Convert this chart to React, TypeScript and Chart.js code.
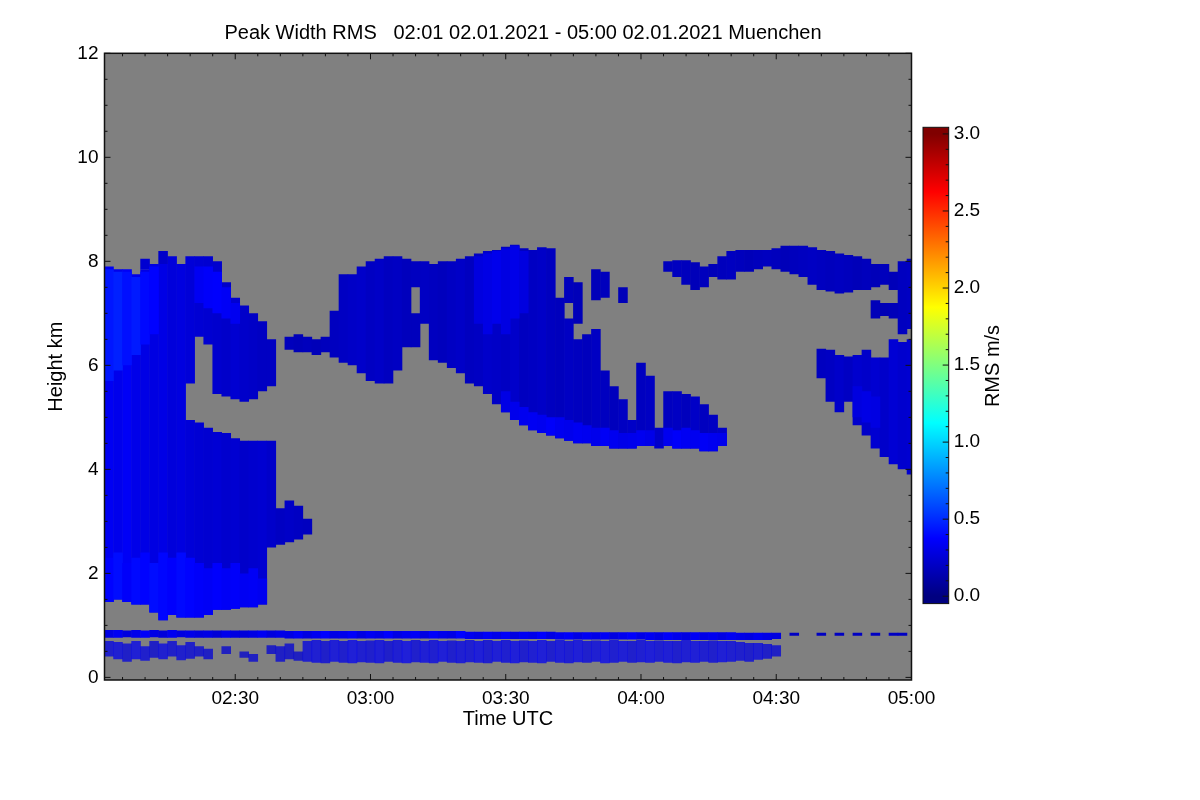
import { useEffect, useRef } from 'react';
import { Chart, registerables } from 'chart.js';

Chart.register(...registerables);

const FONT = '"Liberation Sans", Arial, Helvetica, sans-serif';
const TITLE = 'Peak Width RMS   02:01 02.01.2021 - 05:00 02.01.2021 Muenchen';

// plot frame, page pixels
const PLOT_LEFT = 104.5;
const PLOT_RIGHT = 911.5;
const PLOT_TOP = 53.3;
const PLOT_BOTTOM = 680;

// time axis: minutes after 02:00 UTC
const T_MIN = 1;
const T_MAX = 180;
const X_TICKS = [30, 60, 90, 120, 150, 180];
const X_MINOR = 5;
const H_MIN = -0.05;
const H_MAX = 12;
const RMS_TOP = 3.0;

// centre of each 2-minute profile column
const TIMES = [
  2, 4, 6, 8, 10, 12, 14, 16, 18, 20, 22, 24, 26, 28, 30, 32, 34, 36, 38, 40,
  42, 44, 46, 48, 50, 52, 54, 56, 58, 60, 62, 64, 66, 68, 70, 72, 74, 76, 78, 80,
  82, 84, 86, 88, 90, 92, 94, 96, 98, 100, 102, 104, 106, 108, 110, 112, 114, 116, 118, 120,
  122, 124, 126, 128, 130, 132, 134, 136, 138, 140, 142, 144, 146, 148, 150, 152, 154, 156, 158, 160,
  162, 164, 166, 168, 170, 172, 174, 176, 178, 180,
];

type Cell = [number, number, number] | null; // [base km, top km, rms m/s]
type Spot = [number, number, number, number]; // [minute, base, top, rms]

// lowest cloud segment per column
const CLOUD_LOW: Cell[] = [
  [1.45, 7.9, 0.34], [1.5, 7.85, 0.32], [1.45, 7.85, 0.35], [1.4, 7.75, 0.31], [1.4, 7.85, 0.3],
  [1.25, 7.95, 0.29], [1.1, 7.95, 0.3], [1.2, 8.1, 0.27], [1.15, 7.95, 0.28], [1.15, 4.95, 0.26],
  [1.15, 4.9, 0.25], [1.2, 4.8, 0.24], [1.3, 4.72, 0.25], [1.3, 4.7, 0.23], [1.32, 4.6, 0.24],
  [1.35, 4.55, 0.22], [1.35, 4.55, 0.23], [1.4, 4.55, 0.24], [2.5, 4.55, 0.22], [2.55, 3.25, 0.2],
  [2.6, 3.4, 0.21], [2.65, 3.3, 0.2], [2.75, 3.05, 0.19], null, null,
  null, null, null, null, null,
  null, null, null, null, [6.35, 7.0, 0.18],
  [6.8, 8.0, 0.2], [6.1, 7.95, 0.19], [6.05, 8.0, 0.18], [5.95, 8.0, 0.2], [5.85, 8.05, 0.21],
  [5.65, 8.1, 0.19], [5.6, 8.15, 0.2], [5.45, 8.2, 0.22], [5.25, 8.22, 0.21], [5.1, 8.28, 0.2],
  [4.95, 8.32, 0.22], [4.85, 8.25, 0.19], [4.75, 8.22, 0.2], [4.7, 8.27, 0.21], [4.65, 8.25, 0.19],
  [4.6, 7.3, 0.18], [4.55, 6.9, 0.2], [4.5, 6.5, 0.19], [4.5, 6.6, 0.18], [4.45, 6.7, 0.2],
  [4.45, 5.9, 0.19], [4.4, 5.6, 0.18], [4.4, 5.35, 0.2], [4.4, 4.95, 0.21], [4.45, 6.05, 0.19],
  [4.45, 5.8, 0.2], [4.4, 4.8, 0.22], [4.45, 5.5, 0.19], [4.4, 5.5, 0.2], [4.4, 5.45, 0.18],
  [4.4, 5.4, 0.21], [4.35, 5.25, 0.19], [4.35, 5.05, 0.2], [4.45, 4.8, 0.22], null,
  null, null, null, null, null,
  null, null, null, null, [5.75, 6.32, 0.19],
  [5.3, 6.3, 0.2], [5.1, 6.2, 0.22], [5.3, 6.17, 0.2], [4.85, 6.2, 0.23], [4.65, 6.3, 0.22],
  [4.4, 6.15, 0.24], [4.24, 6.15, 0.22], [4.1, 6.5, 0.25], [4.0, 6.45, 0.23], [3.9, 6.5, 0.24],
];

// second (higher) cloud segment per column
const CLOUD_HIGH: Cell[] = [
  null, null, null, null, null, null, null, null, null, [5.65, 8.1, 0.26],
  [6.55, 8.1, 0.25], [6.4, 8.1, 0.24], [5.45, 8.0, 0.23], [5.4, 7.6, 0.22], [5.35, 7.3, 0.24],
  [5.3, 7.15, 0.22], [5.35, 7.0, 0.21], [5.5, 6.85, 0.2], [5.6, 6.5, 0.2], null,
  [6.3, 6.55, 0.18], [6.25, 6.6, 0.17], [6.25, 6.55, 0.18], [6.2, 6.5, 0.17], [6.25, 6.55, 0.18],
  [6.15, 7.05, 0.19], [6.05, 7.75, 0.2], [6.0, 7.75, 0.21], [5.85, 7.9, 0.22], [5.7, 8.0, 0.2],
  [5.65, 8.05, 0.21], [5.65, 8.1, 0.19], [5.9, 8.1, 0.2], [6.35, 8.05, 0.18], [7.5, 8.0, 0.19],
  null, null, null, null, null, null, null, null, null, null,
  null, null, null, null, null, null, [7.2, 7.7, 0.18], [6.8, 7.6, 0.17], null, [7.25, 7.85, 0.17],
  [7.3, 7.8, 0.18], null, [7.2, 7.5, 0.17], null, null,
  null, null, [7.8, 8.0, 0.18], [7.7, 8.02, 0.19], [7.55, 8.02, 0.18],
  [7.45, 7.98, 0.17], [7.5, 7.9, 0.18], [7.7, 7.95, 0.17], [7.65, 8.1, 0.18], [7.65, 8.2, 0.19],
  [7.8, 8.22, 0.18], [7.8, 8.22, 0.17], [7.85, 8.22, 0.18], [7.9, 8.22, 0.19], [7.85, 8.25, 0.18],
  [7.8, 8.3, 0.17], [7.75, 8.3, 0.18], [7.7, 8.3, 0.19], [7.55, 8.27, 0.2], [7.45, 8.22, 0.19],
  [7.42, 8.2, 0.18], [7.38, 8.15, 0.19], [7.4, 8.12, 0.18], [7.45, 8.1, 0.17], [7.45, 8.05, 0.18],
  [7.5, 7.95, 0.17], [7.55, 7.95, 0.18], [7.45, 7.8, 0.17], [6.6, 8.0, 0.19], [6.7, 8.05, 0.2],
];

// boundary layer: upper band and speckled lower band
const BL_TOP: Cell[] = [
  [0.76, 0.91, 0.3], [0.76, 0.91, 0.34], [0.77, 0.9, 0.28], [0.76, 0.91, 0.32], [0.76, 0.9, 0.36],
  [0.77, 0.91, 0.3], [0.76, 0.9, 0.27], [0.76, 0.91, 0.33], [0.77, 0.9, 0.29], [0.76, 0.9, 0.31],
  [0.76, 0.9, 0.28], [0.76, 0.9, 0.3], [0.76, 0.9, 0.26], [0.76, 0.9, 0.32], [0.76, 0.9, 0.29],
  [0.76, 0.9, 0.27], [0.76, 0.9, 0.3], [0.76, 0.9, 0.34], [0.76, 0.9, 0.28], [0.76, 0.9, 0.31],
  [0.75, 0.89, 0.3], [0.75, 0.89, 0.35], [0.75, 0.89, 0.29], [0.75, 0.89, 0.33], [0.75, 0.89, 0.38],
  [0.75, 0.89, 0.3], [0.75, 0.89, 0.32], [0.75, 0.89, 0.36], [0.75, 0.89, 0.29], [0.75, 0.89, 0.34],
  [0.75, 0.89, 0.31], [0.75, 0.89, 0.37], [0.75, 0.89, 0.3], [0.75, 0.89, 0.33], [0.75, 0.89, 0.35],
  [0.75, 0.89, 0.29], [0.75, 0.89, 0.36], [0.75, 0.89, 0.32], [0.75, 0.89, 0.3], [0.75, 0.89, 0.38],
  [0.74, 0.88, 0.33], [0.74, 0.88, 0.3], [0.74, 0.88, 0.35], [0.74, 0.88, 0.31], [0.74, 0.88, 0.36],
  [0.74, 0.88, 0.29], [0.74, 0.88, 0.34], [0.74, 0.88, 0.32], [0.74, 0.88, 0.37], [0.74, 0.88, 0.3],
  [0.73, 0.87, 0.33], [0.73, 0.87, 0.36], [0.73, 0.87, 0.3], [0.73, 0.87, 0.34], [0.73, 0.87, 0.31],
  [0.73, 0.87, 0.35], [0.73, 0.87, 0.29], [0.73, 0.87, 0.33], [0.73, 0.87, 0.37], [0.73, 0.87, 0.31],
  [0.72, 0.87, 0.34], [0.72, 0.87, 0.3], [0.72, 0.87, 0.36], [0.72, 0.87, 0.32], [0.72, 0.87, 0.29],
  [0.72, 0.87, 0.35], [0.72, 0.87, 0.31], [0.72, 0.87, 0.33], [0.72, 0.87, 0.3], [0.72, 0.87, 0.34],
  [0.72, 0.86, 0.31], [0.72, 0.86, 0.29], [0.72, 0.86, 0.33], [0.72, 0.86, 0.3], [0.74, 0.86, 0.28],
  null, [0.8, 0.86, 0.2], null, null, [0.8, 0.86, 0.2],
  null, [0.8, 0.86, 0.2], null, [0.8, 0.86, 0.2], null,
  [0.8, 0.86, 0.2], null, [0.8, 0.86, 0.2], [0.8, 0.86, 0.2], null,
];

const BL_LOW: Cell[] = [
  [0.4, 0.7, 0.3], [0.35, 0.68, 0.32], [0.3, 0.65, 0.28], [0.35, 0.7, 0.33], [0.32, 0.6, 0.3],
  [0.38, 0.7, 0.27], [0.35, 0.65, 0.31], [0.4, 0.7, 0.29], [0.33, 0.62, 0.3], [0.36, 0.68, 0.28],
  [0.4, 0.6, 0.27], [0.35, 0.55, 0.26], null, [0.45, 0.6, 0.25], null,
  [0.38, 0.5, 0.24], [0.3, 0.45, 0.26], null, [0.45, 0.62, 0.25], [0.3, 0.6, 0.27],
  [0.35, 0.65, 0.26], [0.32, 0.5, 0.25], [0.3, 0.7, 0.3], [0.28, 0.72, 0.32], [0.27, 0.7, 0.29],
  [0.3, 0.72, 0.33], [0.28, 0.7, 0.3], [0.27, 0.72, 0.34], [0.29, 0.7, 0.31], [0.28, 0.71, 0.3],
  [0.27, 0.72, 0.33], [0.3, 0.7, 0.29], [0.28, 0.72, 0.32], [0.27, 0.7, 0.35], [0.29, 0.72, 0.3],
  [0.28, 0.7, 0.33], [0.27, 0.72, 0.31], [0.3, 0.7, 0.34], [0.28, 0.71, 0.3], [0.27, 0.7, 0.32],
  [0.29, 0.72, 0.31], [0.28, 0.7, 0.34], [0.27, 0.72, 0.3], [0.3, 0.7, 0.33], [0.28, 0.72, 0.31],
  [0.27, 0.7, 0.35], [0.29, 0.71, 0.3], [0.28, 0.7, 0.32], [0.27, 0.72, 0.34], [0.3, 0.7, 0.3],
  [0.28, 0.72, 0.33], [0.27, 0.7, 0.31], [0.29, 0.72, 0.34], [0.28, 0.7, 0.3], [0.3, 0.71, 0.32],
  [0.27, 0.7, 0.35], [0.28, 0.72, 0.31], [0.3, 0.7, 0.33], [0.28, 0.7, 0.3], [0.29, 0.72, 0.32],
  [0.28, 0.7, 0.34], [0.3, 0.71, 0.31], [0.28, 0.7, 0.33], [0.27, 0.7, 0.3], [0.29, 0.72, 0.32],
  [0.28, 0.7, 0.34], [0.3, 0.7, 0.31], [0.28, 0.71, 0.3], [0.29, 0.7, 0.33], [0.3, 0.7, 0.31],
  [0.32, 0.68, 0.3], [0.3, 0.66, 0.29], [0.34, 0.66, 0.31], [0.36, 0.64, 0.28], [0.4, 0.62, 0.27],
  null, null, null, null, null, null, null, null, null, null,
  null, null, null, null, null,
];

// brighter patches (higher rms) drawn over the clouds
const BRIGHT_UPPER: Spot[] = [
  [2, 5.7, 7.85, 0.44], [4, 5.9, 7.8, 0.47], [6, 6.0, 7.8, 0.42], [8, 6.2, 7.7, 0.45],
  [10, 6.4, 7.8, 0.4], [12, 6.6, 7.9, 0.38],
  [22, 7.2, 7.9, 0.34], [24, 7.1, 7.9, 0.36], [26, 7.0, 7.8, 0.37], [28, 6.9, 7.5, 0.35], [30, 6.8, 7.2, 0.33],
  [84, 6.8, 8.1, 0.28], [86, 6.6, 8.15, 0.3], [88, 6.8, 8.2, 0.32], [90, 6.6, 8.25, 0.29],
  [92, 6.9, 8.3, 0.31], [94, 7.0, 8.2, 0.28],
];

const BRIGHT_LOWER: Spot[] = [
  [2, 1.45, 2.3, 0.38], [4, 1.5, 2.4, 0.41], [6, 1.45, 2.2, 0.36], [8, 1.4, 2.3, 0.4],
  [10, 1.4, 2.4, 0.38], [12, 1.25, 2.2, 0.41], [14, 1.1, 2.4, 0.39], [16, 1.2, 2.3, 0.37],
  [18, 1.15, 2.4, 0.4], [20, 1.15, 2.3, 0.38], [22, 1.15, 2.2, 0.36], [24, 1.2, 2.1, 0.35],
  [26, 1.3, 2.2, 0.37], [28, 1.3, 2.1, 0.35], [30, 1.32, 2.2, 0.36], [32, 1.35, 2.0, 0.34],
  [34, 1.35, 2.1, 0.35], [36, 1.4, 1.9, 0.33],
  [90, 5.1, 5.5, 0.3], [92, 4.95, 5.3, 0.32], [94, 4.85, 5.2, 0.33], [96, 4.75, 5.1, 0.34],
  [98, 4.7, 5.05, 0.33], [100, 4.65, 5.0, 0.36], [102, 4.6, 5.0, 0.33], [104, 4.55, 4.95, 0.32],
  [106, 4.5, 4.9, 0.34], [108, 4.5, 4.85, 0.33], [110, 4.45, 4.8, 0.32], [112, 4.45, 4.8, 0.35],
  [114, 4.4, 4.75, 0.33], [116, 4.4, 4.7, 0.31], [118, 4.4, 4.7, 0.32], [120, 4.45, 4.75, 0.33],
  [122, 4.45, 4.75, 0.31],
  [126, 4.45, 4.8, 0.33], [128, 4.4, 4.75, 0.36], [130, 4.4, 4.8, 0.34], [132, 4.4, 4.75, 0.33],
  [134, 4.35, 4.7, 0.35], [136, 4.35, 4.7, 0.33], [138, 4.45, 4.7, 0.32],
  [168, 5.0, 5.6, 0.28], [170, 4.9, 5.5, 0.3], [172, 4.8, 5.4, 0.29],
];

// small isolated bits
const CLOUD_BITS: Spot[] = [
  [10, 7.85, 8.05, 0.24], [14, 7.95, 8.2, 0.22],
  [172, 6.9, 7.25, 0.17], [174, 6.95, 7.2, 0.16], [176, 6.9, 7.2, 0.17],
];

function jet(v: number, alpha = 1) {
  const t = Math.max(0, Math.min(1, v / RMS_TOP));
  const c = (k: number) => Math.round(255 * Math.max(0, Math.min(1, 1.5 - Math.abs(4 * t - k))));
  return `rgba(${c(3)},${c(2)},${c(1)},${alpha})`;
}

function columns(cells: Cell[]): Spot[] {
  const out: Spot[] = [];
  cells.forEach((c, i) => {
    if (c) out.push([TIMES[i], c[0], c[1], c[2]]);
  });
  return out;
}

function layer(label: string, spots: Spot[], alpha = 1) {
  return {
    label,
    data: spots.map(([t, lo, hi, v]) => ({ x: t, y: [lo, hi], v })),
    backgroundColor: (ctx: any) => (ctx.raw ? jet(ctx.raw.v, alpha) : 'transparent'),
    borderWidth: 0,
    grouped: false,
    categoryPercentage: 1,
    barPercentage: 1.06,
    clip: 0,
  };
}

function clock(v: number) {
  const m = 120 + v;
  const hh = String(Math.floor(m / 60)).padStart(2, '0');
  const mm = String(m % 60).padStart(2, '0');
  return `${hh}:${mm}`;
}

const framePlugin = {
  id: 'frame',
  beforeDatasetsDraw(chart: any) {
    const { ctx, chartArea: a } = chart;
    ctx.save();
    ctx.fillStyle = '#808080';
    ctx.fillRect(a.left, a.top, a.right - a.left, a.bottom - a.top);
    ctx.restore();
  },
  afterDatasetsDraw(chart: any) {
    const { ctx, chartArea: a, scales } = chart;
    const x = scales.x;
    const y = scales.y;
    ctx.save();
    ctx.strokeStyle = '#111';
    ctx.lineWidth = 1;
    ctx.beginPath();
    for (let t = X_MINOR; t <= T_MAX; t += X_MINOR) {
      const px = x.getPixelForValue(t);
      const len = X_TICKS.includes(t) ? 6 : 3;
      ctx.moveTo(px, a.bottom);
      ctx.lineTo(px, a.bottom - len);
      ctx.moveTo(px, a.top);
      ctx.lineTo(px, a.top + len);
    }
    for (let k = 0; k <= 24; k++) {
      const py = y.getPixelForValue(k / 2);
      const len = k % 4 === 0 ? 6 : 3;
      ctx.moveTo(a.left, py);
      ctx.lineTo(a.left + len, py);
      ctx.moveTo(a.right, py);
      ctx.lineTo(a.right - len, py);
    }
    ctx.stroke();
    ctx.lineWidth = 1.5;
    ctx.strokeRect(a.left, a.top, a.right - a.left, a.bottom - a.top);
    ctx.fillStyle = '#000';
    ctx.font = `20px ${FONT}`;
    ctx.textAlign = 'center';
    ctx.textBaseline = 'middle';
    ctx.fillText(TITLE, 523, 33);
    ctx.restore();
  },
};

const barPlugin = {
  id: 'rmsBar',
  beforeDatasetsDraw(chart: any) {
    const { ctx, chartArea: a, scales } = chart;
    const y = scales.y;
    const g = ctx.createLinearGradient(0, y.getPixelForValue(0), 0, y.getPixelForValue(RMS_TOP));
    [0, 0.125, 0.375, 0.625, 0.875, 1].forEach((s) => g.addColorStop(s, jet(s * RMS_TOP)));
    ctx.save();
    ctx.fillStyle = g;
    ctx.fillRect(a.left, a.top, a.right - a.left, a.bottom - a.top);
    ctx.strokeStyle = '#111';
    ctx.lineWidth = 1;
    ctx.beginPath();
    for (let k = 0; k <= 30; k++) {
      const py = y.getPixelForValue(k / 10);
      const len = k % 5 === 0 ? 6 : 3;
      ctx.moveTo(a.right, py);
      ctx.lineTo(a.right - len, py);
    }
    ctx.stroke();
    ctx.strokeRect(a.left, a.top, a.right - a.left, a.bottom - a.top);
    ctx.translate(93, 256);
    ctx.rotate(-Math.PI / 2);
    ctx.fillStyle = '#000';
    ctx.font = `20px ${FONT}`;
    ctx.textAlign = 'center';
    ctx.textBaseline = 'middle';
    ctx.fillText('RMS m/s', 0, 0);
    ctx.restore();
  },
};

function RadarPlot() {
  const canvas = useRef<HTMLCanvasElement | null>(null);

  useEffect(() => {
    if (!canvas.current) return;

    const chart = new Chart(canvas.current, {
      type: 'bar',
      data: {
        datasets: [
          layer('bright upper', BRIGHT_UPPER),
          layer('bright lower', BRIGHT_LOWER),
          layer('bits', CLOUD_BITS),
          layer('cloud high', columns(CLOUD_HIGH)),
          layer('cloud low', columns(CLOUD_LOW)),
          layer('bl top', columns(BL_TOP)),
          layer('bl low', columns(BL_LOW), 0.75),
        ] as any,
      },
      options: {
        responsive: false,
        animation: false,
        events: [],
        layout: { padding: { left: 0, top: PLOT_TOP, right: 1200 - PLOT_RIGHT, bottom: 0 } },
        plugins: { legend: { display: false }, tooltip: { enabled: false } },
        scales: {
          x: {
            type: 'linear',
            min: T_MIN,
            max: T_MAX,
            offset: false,
            grid: { display: false, drawTicks: false },
            border: { display: false },
            ticks: {
              stepSize: 30,
              includeBounds: false,
              autoSkip: false,
              maxRotation: 0,
              padding: 7.6,
              color: '#000',
              font: { family: FONT, size: 19 },
              callback: (v: any) => clock(Number(v)),
            },
            title: {
              display: true,
              text: 'Time UTC',
              color: '#000',
              font: { family: FONT, size: 20 },
              padding: { top: 0, bottom: 69 },
            },
            afterFit: (s: any) => {
              s.height = 800 - PLOT_BOTTOM;
            },
          },
          y: {
            type: 'linear',
            min: H_MIN,
            max: H_MAX,
            grid: { display: false, drawTicks: false },
            border: { display: false },
            ticks: {
              stepSize: 2,
              includeBounds: false,
              padding: 6,
              color: '#000',
              font: { family: FONT, size: 19 },
            },
            title: {
              display: true,
              text: 'Height km',
              color: '#000',
              font: { family: FONT, size: 20 },
              padding: { top: 44, bottom: 0 },
            },
            afterFit: (s: any) => {
              s.width = PLOT_LEFT;
            },
          },
        },
      } as any,
      plugins: [framePlugin],
    });

    return () => chart.destroy();
  }, [canvas]);

  return <canvas ref={canvas} width={1200} height={800} style={{ position: 'absolute', left: 0, top: 0 }}></canvas>;
}

function ColorBar() {
  const canvas = useRef<HTMLCanvasElement | null>(null);

  useEffect(() => {
    if (!canvas.current) return;

    const chart = new Chart(canvas.current, {
      type: 'scatter',
      data: { datasets: [] },
      options: {
        responsive: false,
        animation: false,
        events: [],
        layout: { padding: { left: 23, top: 17.3, right: 0, bottom: 14.3 } },
        plugins: { legend: { display: false }, tooltip: { enabled: false } },
        scales: {
          x: { type: 'linear', display: false },
          y: {
            type: 'linear',
            position: 'right',
            min: -0.048,
            max: 3.043,
            grid: { display: false, drawTicks: false },
            border: { display: false },
            ticks: {
              stepSize: 0.5,
              includeBounds: false,
              padding: 5,
              color: '#000',
              font: { family: FONT, size: 19 },
              callback: (v: any) => Number(v).toFixed(1),
            },
            afterFit: (s: any) => {
              s.width = 71.3;
            },
          },
        },
      } as any,
      plugins: [barPlugin],
    });

    return () => chart.destroy();
  }, [canvas]);

  return <canvas ref={canvas} width={120} height={510} style={{ position: 'absolute', left: 900, top: 110 }}></canvas>;
}

export default function App() {
  return (
    <div style={{ position: 'absolute', left: 0, top: 0, width: 1200, height: 800, background: '#fff' }}>
      <RadarPlot />
      <ColorBar />
    </div>
  );
}
